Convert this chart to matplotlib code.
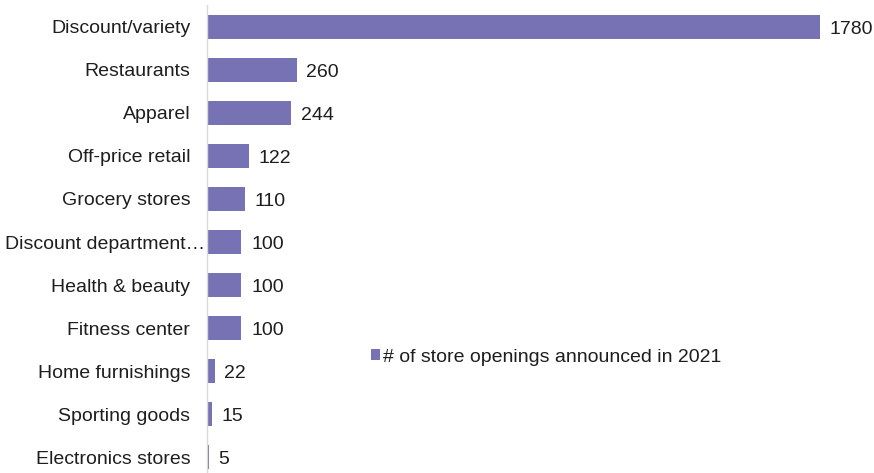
import matplotlib.pyplot as plt
from matplotlib.patches import Patch
from matplotlib.transforms import ScaledTranslation

plt.rcParams['font.family'] = ['Liberation Sans', 'DejaVu Sans']

categories = ['Discount/variety', 'Restaurants', 'Apparel', 'Off-price retail',
              'Grocery stores', 'Discount department\u2026', 'Health & beauty',
              'Fitness center', 'Home furnishings', 'Sporting goods',
              'Electronics stores']
openings = [1780, 260, 244, 122, 110, 100, 100, 100, 22, 15, 5]
series_name = '# of store openings announced in 2021'

bar_color = '#7672B4'
text_color = '#1e1e1e'
fs = 14

fig = plt.figure(figsize=(8.74, 4.73), dpi=100)
ax = fig.add_axes([207 / 874, 0.0, 667 / 874, 468 / 473])

y = list(range(len(categories)))
ax.barh(y, openings, height=0.56, color=bar_color)

for yi, v in zip(y, openings):
    ax.annotate(str(v), (v, yi), xytext=(7, -1.5), textcoords='offset points',
                va='center', ha='left', fontsize=fs, color=text_color)

ax.set_xlim(0, 1937)
ax.set_ylim(len(categories) - 1 + 0.37, -0.51)
ax.set_yticks(y)
ax.set_yticklabels(categories, fontsize=fs, color=text_color)
ax.tick_params(axis='y', length=0, pad=12)
ax.set_xticks([])

# the truncated label runs right up to the axis
for lbl in ax.get_yticklabels():
    if lbl.get_text().endswith('\u2026'):
        lbl.set_transform(lbl.get_transform() +
                          ScaledTranslation(0.15, 0, fig.dpi_scale_trans))

for side in ['top', 'right', 'bottom']:
    ax.spines[side].set_visible(False)
ax.spines['left'].set_color('#d9d9d9')
ax.spines['left'].set_linewidth(1)

handle = Patch(facecolor=bar_color, edgecolor='none')
ax.legend([handle], [series_name], loc='center left',
          bbox_to_anchor=(164 / 667, 1 - 352 / 468), frameon=False,
          fontsize=fs, handlelength=0.45, handleheight=0.45,
          handletextpad=0.15, borderaxespad=0, borderpad=0,
          labelcolor=text_color)

fig.savefig('out.png', dpi=100)
